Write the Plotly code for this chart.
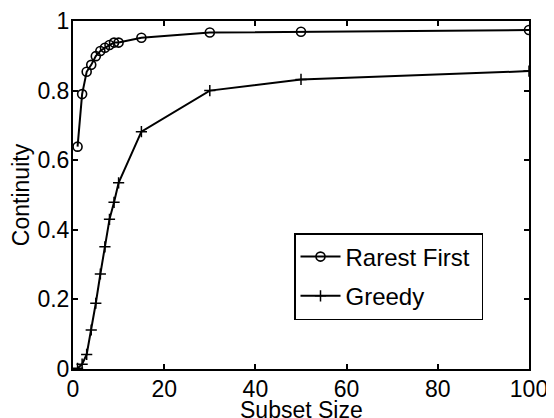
import plotly.graph_objects as go

x_rarest = [1, 2, 3, 4, 5, 6, 7, 8, 9, 10, 15, 30, 50, 100]
y_rarest = [0.639, 0.790, 0.854, 0.874, 0.899, 0.914, 0.923, 0.931, 0.938, 0.938, 0.952, 0.967, 0.969, 0.974]

x_greedy = [1, 2, 3, 4, 5, 6, 7, 8, 9, 10, 15, 30, 50, 100]
y_greedy = [0.002, 0.014, 0.042, 0.112, 0.189, 0.273, 0.351, 0.430, 0.479, 0.535, 0.682, 0.800, 0.832, 0.856]

x_ticks = [0, 20, 40, 60, 80, 100]
y_ticks = [0, 0.2, 0.4, 0.6, 0.8, 1]
y_tick_labels = ["0", "0.2", "0.4", "0.6", "0.8", "1"]

FONT = "Liberation Sans, Arial, sans-serif"

fig = go.Figure()
fig.add_trace(go.Scatter(
    x=x_rarest, y=y_rarest, name="Rarest First\u00a0", mode="lines+markers",
    legendgroup="a",
    line=dict(color="black", width=2),
    marker=dict(symbol="circle-open", size=9, color="black", line=dict(width=1.6)),
))
fig.add_trace(go.Scatter(
    x=x_greedy, y=y_greedy, name="Greedy", mode="lines+markers",
    legendgroup="b",
    line=dict(color="black", width=2),
    marker=dict(symbol="cross-thin-open", size=8, color="black", line=dict(width=1.5, color="black")),
))

axis_common = dict(
    showline=True, linecolor="black", linewidth=2, mirror="allticks",
    ticks="inside", ticklen=5, tickwidth=1.5, tickcolor="black",
    showgrid=False, zeroline=False, automargin=False,
    tickfont=dict(family=FONT, size=23, color="black"),
)

# page body adds an 8px offset, so the figure is 546x410 placed at (8,8)
fig.update_layout(
    width=546, height=410,
    margin=dict(l=65, r=25, t=13, b=49),
    paper_bgcolor="white", plot_bgcolor="white",
    showlegend=True,
    legend=dict(
        x=(294 - 73) / 456, y=(369 - 233) / 348, xanchor="left", yanchor="top",
        bordercolor="black", borderwidth=1.5, bgcolor="white",
        font=dict(family=FONT, size=24, color="black"),
        traceorder="grouped", tracegroupgap=5, itemwidth=40,
    ),
    xaxis=dict(range=[0, 100], tickvals=x_ticks, ticklabelstandoff=-2,
               **axis_common),
    yaxis=dict(range=[0, 1], tickvals=y_ticks, ticktext=y_tick_labels,
               ticklabelstandoff=-3,
               title=dict(text="Continuity", standoff=6,
                          font=dict(family=FONT, size=23, color="black")),
               **axis_common),
    annotations=[dict(
        text="Subset Size", xref="paper", yref="paper", x=0.5, y=0,
        xanchor="center", yanchor="top", yshift=-26, showarrow=False,
        font=dict(family=FONT, size=23, color="black"),
    )],
)

fig.write_html("out.html")
